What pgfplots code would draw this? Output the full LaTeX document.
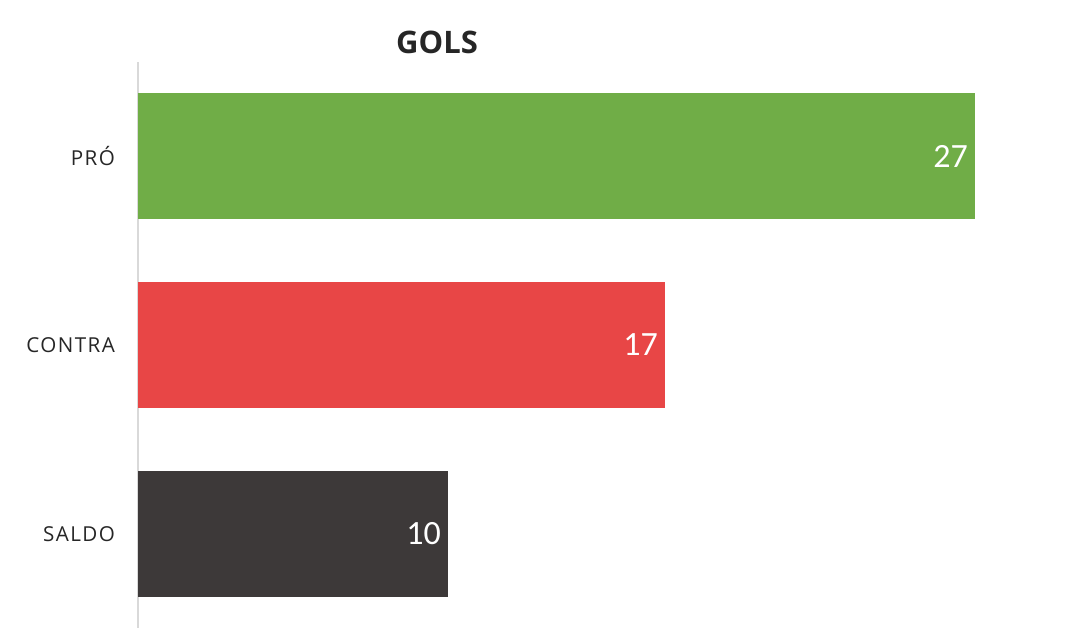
\documentclass[border=0pt]{standalone}
\usepackage{pgfplots}
\pgfplotsset{compat=1.18}
\usepackage{fontspec}
\setmainfont{Open Sans}
\newfontfamily\numfont{Carlito}
\newfontfamily\labfont[LetterSpace=7]{Open Sans}
\definecolor{cgreen}{HTML}{70AD47}
\definecolor{cred}{HTML}{E84646}
\definecolor{cdark}{HTML}{3D3939}
\definecolor{ctext}{HTML}{262626}
\definecolor{caxis}{HTML}{D9D9D9}
\begin{document}
\begin{tikzpicture}[x=1pt,y=1pt]
\path (0,0) rectangle (540,320);
\node[font=\bfseries\fontsize{15.5}{18}\selectfont, text=ctext] at (218.5,299) {GOLS};
\begin{axis}[
  at={(69pt,6pt)}, anchor=south west,
  scale only axis, width=465pt, height=283pt,
  xbar, bar width=63pt, bar shift=0pt,
  xmin=0, xmax=30,
  ymin=-0.5, ymax=2.5,
  ytick={0,1,2},
  yticklabels={SALDO,CONTRA,PRÓ},
  yticklabel style={font=\labfont\fontsize{10.3}{12}\selectfont, text=ctext, xshift=-8pt},
  xtick=\empty,
  major tick length=0pt,
  axis x line=none,
  axis y line*=left,
  y axis line style={draw=caxis, line width=0.6pt, -},
  nodes near coords,
  nodes near coords style={font=\numfont\fontsize{17}{19}\selectfont, text=white, anchor=east, xshift=0pt},
  point meta=explicit symbolic,
  clip=false,
]
\addplot[fill=cdark, draw=none] coordinates {(10,0) [10]};
\addplot[fill=cred, draw=none] coordinates {(17,1) [17]};
\addplot[fill=cgreen, draw=none] coordinates {(27,2) [27]};
\end{axis}
\end{tikzpicture}
\end{document}
